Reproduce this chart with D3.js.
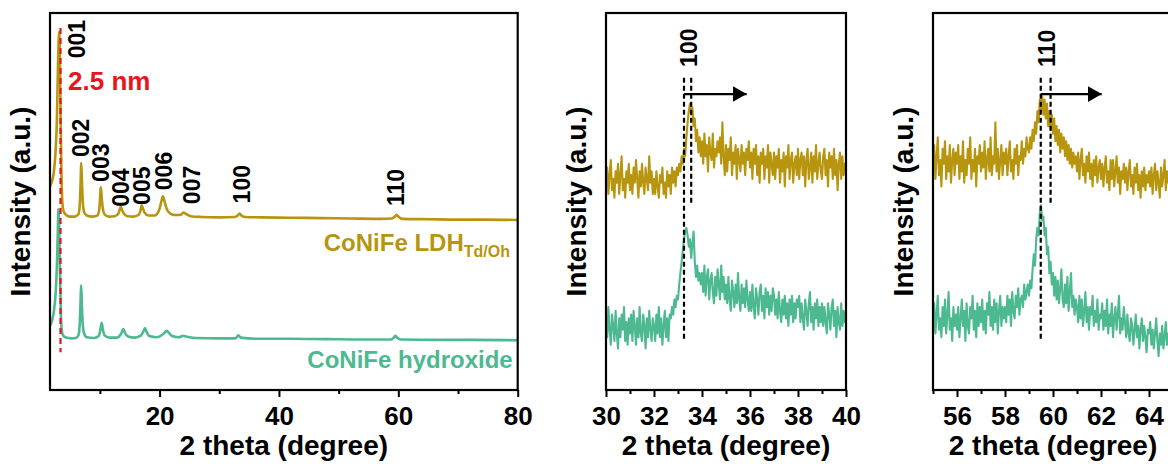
<!DOCTYPE html>
<html>
<head>
<meta charset="utf-8">
<style>
  body { margin: 0; background: #fff; }
  svg { display: block; }
  text { font-family: "Liberation Sans", Arial, sans-serif; font-weight: bold; }
</style>
</head>
<body>
<script src="https://d3js.org/d3.v7.min.js"></script>
<script>
// colours of the two samples
var colLDH = "#b8950f", colHyd = "#4cb991";

// wide scan, [2theta, intensity]
var wideLDH = [[1.64,54],[2.0,55.5],[2.3,58],[2.6,64],[2.8,72],[2.95,84],[3.1,93],[3.18,95],[3.28,90],[3.4,75],[3.55,58],[3.7,50],[3.9,47.5],[4.3,46.5],[5.0,46],[5.8,46],[6.4,46.6],[6.6,48.5],[6.75,54],[6.88,60.2],[7.0,55],[7.15,49.5],[7.4,47],[7.8,46.3],[8.8,46],[9.6,46.3],[9.9,48],[10.05,51.5],[10.15,53.8],[10.3,51],[10.5,48],[10.8,46.6],[11.5,46],[12.5,46.1],[13.1,46.8],[13.35,48],[13.5,48.6],[13.7,47.8],[14.0,46.8],[14.6,46.1],[15.6,46],[16.5,46.5],[16.8,47.6],[17.0,49],[17.2,48.2],[17.5,47],[18.1,46.3],[19.2,46.3],[19.9,47.6],[20.3,50],[20.55,51.4],[20.8,50.2],[21.2,48],[21.8,46.8],[22.6,46.4],[23.6,46.5],[24.0,47.1],[24.4,46.7],[25.2,46.1],[27,45.9],[30,45.8],[32.6,45.9],[33.1,46.3],[33.4,46.8],[33.7,46.3],[34.3,45.9],[37,45.8],[42,45.7],[47,45.6],[52,45.5],[57,45.4],[58.9,45.5],[59.4,46],[59.7,46.5],[60.0,46],[60.6,45.4],[65,45.3],[70,45.2],[75,45.2],[80,45.1]];
var wideHyd = [[1.64,17],[2.0,18.5],[2.3,21],[2.6,26],[2.8,33],[2.95,42],[3.05,48],[3.15,45],[3.3,33],[3.45,21],[3.6,16],[3.8,14.5],[4.3,13.9],[5.2,13.7],[6.0,13.8],[6.4,14.5],[6.6,17],[6.75,23],[6.85,27.8],[6.95,24],[7.1,18],[7.35,15],[7.8,14],[9,13.8],[9.8,14.3],[10.05,15.8],[10.3,17.8],[10.5,16],[10.8,14.5],[11.6,13.9],[12.8,13.9],[13.5,14.8],[13.8,15.8],[13.95,16.2],[14.2,15.2],[14.7,14.2],[15.8,13.9],[16.9,14.5],[17.3,15.6],[17.55,16.4],[17.8,15.5],[18.3,14.3],[19.5,14],[20.4,14.6],[20.9,15.3],[21.2,15.7],[21.5,15.3],[22.0,14.4],[23.2,14],[24.0,14.4],[24.6,14.1],[26,13.8],[30,13.7],[32.7,13.7],[33.2,14.5],[33.6,13.9],[36,13.6],[42,13.6],[48,13.5],[54,13.4],[58.8,13.4],[59.3,14],[59.5,14.4],[59.8,13.9],[60.4,13.4],[66,13.3],[72,13.3],[80,13.2]];

// fine scans, 0.05 degree step
var step = 0.05;
var start100 = 30;
var fine100LDH = [55,59,52,57,61,53,56,51,58,55,60,52,57,62,53,56,51,58,55,60,
  53,57,52,59,55,61,56,51,58,54,60,55,52,59,56,53,62,55,58,52,
  56,52,58,54,51,57,55,59,52,55,51,58,54,57,52,59,55,58,54,59,
  57,60,58,62,60,64,62,67,71,74,76,73,75,70,72,66,69,63,67,62,
  66,60,68,62,65,58,67,63,61,68,59,64,62,66,63,67,60,71,62,57,
  65,58,64,61,67,57,63,60,65,56,64,61,58,65,60,63,57,64,61,66,
  59,63,56,64,60,65,57,62,55,63,60,64,56,62,59,65,55,63,60,57,
  63,56,62,59,64,55,61,58,63,54,62,59,65,56,61,63,55,60,62,57,
  64,56,61,63,57,62,54,61,64,56,59,63,55,62,58,65,56,60,63,58,
  56,62,64,57,61,54,63,59,62,56,64,57,61,53,60,63,56,62,57,60,58];
var fine100Hyd = [19,14,22,16,12,20,17,13,21,15,11,19,14,20,16,22,13,18,12,19,
  15,20,13,21,17,12,19,14,22,15,13,20,17,11,19,14,21,16,13,19,
  17,13,20,15,22,14,19,12,17,21,14,19,13,20,19,22,20,24,22,25,
  24,28,31,34,37,40,42,43,41,38,40,35,39,42,34,30,33,29,31,28,
  31,26,33,25,30,32,24,29,31,26,23,30,25,32,28,24,33,26,30,24,
  28,23,30,24,21,29,26,22,28,23,31,24,21,28,23,27,22,29,24,21,
  26,21,28,22,19,27,24,20,26,28,21,25,19,27,22,26,20,25,21,27,
  25,20,24,19,26,21,18,24,20,25,19,23,17,24,20,25,18,23,19,24,
  22,25,18,23,19,16,24,21,17,23,26,18,22,16,23,19,24,17,22,18,
  23,17,22,18,15,23,20,16,22,24,17,21,14,22,18,16,23,17,21,18,21];
var start110 = 55;
var fine110LDH = [59,65,56,62,67,57,61,54,64,60,66,56,62,58,65,55,61,64,57,63,
  60,65,56,62,58,66,55,61,57,64,60,67,56,61,58,64,54,62,60,65,
  58,63,59,66,56,61,64,58,67,57,62,60,71,58,64,56,61,65,57,63,
  60,64,57,62,66,58,61,56,64,60,65,57,62,61,66,60,64,62,67,64,
  63,67,64,69,66,71,68,74,71,77,74,78,73,77,72,76,70,74,69,73,
  68,72,66,70,65,69,63,68,64,67,62,66,61,65,60,64,59,63,60,62,
  58,63,56,61,64,57,60,55,62,58,63,56,60,54,61,57,62,55,59,61,
  56,60,54,59,62,55,58,53,61,56,61,54,58,62,55,59,52,58,56,60,
  55,59,53,58,61,54,57,52,59,55,60,53,57,51,58,54,59,53,57,55,
  58,54,59,52,57,60,53,58,55,51,59,54,57,61,53,58,55,59,54,57,56];
var fine110Hyd = [19,23,15,20,25,16,19,14,22,17,24,15,20,26,16,19,13,22,17,20,
  16,22,14,19,24,17,21,13,23,17,15,22,19,25,16,21,14,23,17,22,
  18,24,16,21,15,23,20,26,17,22,16,24,18,23,15,21,25,17,22,19,
  22,18,25,20,24,17,26,21,19,25,22,27,20,24,25,22,28,24,26,28,
  25,29,27,32,36,33,40,43,41,47,49,45,46,41,43,36,38,31,34,28,
  31,25,30,24,29,23,27,32,24,22,28,23,30,21,26,31,22,25,20,24,
  22,18,25,19,24,17,21,26,18,22,16,22,20,25,17,21,18,24,16,20,
  19,23,16,21,17,24,15,20,17,23,14,19,22,16,20,25,15,19,16,22,
  18,14,20,15,13,19,17,12,16,20,14,17,11,16,19,13,17,14,10,16,
  15,18,12,16,11,15,19,13,9,15,12,17,11,14,18,12,15,10,14,17,14];

// reflection labels on the wide scan: name, 2theta, intensity where the text starts
var hklNames = ["001","002","003","004","005","006","007","100","110"];
var hklTheta = [6.12,6.73,10.09,13.45,17.04,20.61,25.43,33.83,59.56];
var hklBase  = [88.0,61.8,55.2,48.6,49.1,53.0,49.3,49.5,48.8];

// ticks
var wideMajor = [20,40,60,80], wideMinor = [10,30,50,70];
var midMajor = [30,32,34,36,38,40], midMinor = [31,33,35,37,39];
var rightMajor = [56,58,60,62,64], rightMinor = [55,57,59,61,63,65];

// peak shift markers in the fine scans: [hydroxide line, LDH line, arrow end]
var shift100 = [33.25, 33.55, 35.86];
var shift110 = [59.49, 59.90, 62.03];

var W = 1168, H = 464;
var plotTop = 13, plotH = 377;

var svg = d3.select("body").append("svg")
    .attr("width", W)
    .attr("height", H);
svg.append("rect").attr("width", W).attr("height", H).attr("fill", "#fff");

svg.append("defs").append("marker")
    .attr("id", "arrow")
    .attr("viewBox", "0 0 14 16")
    .attr("refX", 14).attr("refY", 8)
    .attr("markerWidth", 14).attr("markerHeight", 16)
    .attr("markerUnits", "userSpaceOnUse")
    .attr("orient", "auto")
    .append("path")
    .attr("d", "M0,0 L14,8 L0,16 Z")
    .attr("fill", "#000");

function fineSeries(start, vals) {
    return vals.map(function (v, i) { return [start + i * step, v]; });
}

function makePanel(left, width, domain, major, minor) {
    var g = svg.append("g").attr("transform", "translate(" + left + "," + plotTop + ")");
    var x = d3.scaleLinear().domain(domain).range([0, width]);
    var y = d3.scaleLinear().domain([0, 100]).range([plotH, 0]);

    // minor ticks
    var minAx = g.append("g")
        .attr("transform", "translate(0," + plotH + ")")
        .call(d3.axisBottom(x).tickValues(minor).tickSize(4).tickSizeOuter(0).tickFormat(""));
    minAx.select(".domain").remove();
    minAx.selectAll("line").attr("stroke-width", 2);

    var majAx = g.append("g")
        .attr("transform", "translate(0," + plotH + ")")
        .call(d3.axisBottom(x).tickValues(major).tickSize(7).tickSizeOuter(0).tickFormat(d3.format("d")));
    majAx.select(".domain").remove();
    majAx.selectAll("line").attr("stroke-width", 2);
    majAx.selectAll("text")
        .attr("y", 35).attr("dy", 0)
        .attr("font-size", 26)
        .attr("font-family", "'Liberation Sans', Arial, sans-serif")
        .attr("font-weight", "bold")
        .attr("fill", "#000");

    g.append("text")
        .attr("x", width / 2).attr("y", 442)
        .attr("text-anchor", "middle")
        .attr("font-size", 28)
        .text("2 theta (degree)");

    g.append("text")
        .attr("transform", "translate(-20," + plotH / 2 + ") rotate(-90)")
        .attr("text-anchor", "middle")
        .attr("font-size", 28)
        .text("Intensity (a.u.)");

    return { g: g, x: x, y: y, width: width };
}

function drawLine(p, data, color, sw, curve) {
    var line = d3.line()
        .x(function (d) { return p.x(d[0]); })
        .y(function (d) { return p.y(d[1]); })
        .curve(curve || d3.curveLinear);
    p.g.append("path")
        .datum(data)
        .attr("fill", "none")
        .attr("stroke", color)
        .attr("stroke-width", sw)
        .attr("stroke-linejoin", "round")
        .attr("d", line);
}

function frame(p) {
    p.g.append("rect")
        .attr("width", p.width).attr("height", plotH)
        .attr("fill", "none")
        .attr("stroke", "#000")
        .attr("stroke-width", 2.2);
}

function rotLabel(p, name, th, base, size) {
    p.g.append("text")
        .attr("transform", "translate(" + p.x(th) + "," + p.y(base) + ") rotate(-90)")
        .attr("dy", "0.36em")
        .attr("font-size", size)
        .text(name);
}

// ---------- wide scan ----------
var pw = makePanel(50, 467.7, [1.64, 80], wideMajor, wideMinor);
drawLine(pw, wideLDH, colLDH, 2.6, d3.curveMonotoneX);
drawLine(pw, wideHyd, colHyd, 2.6, d3.curveMonotoneX);

// 2.5 nm marker line at the 001 reflection
pw.g.append("line")
    .attr("x1", pw.x(3.4)).attr("x2", pw.x(3.4))
    .attr("y1", pw.y(96)).attr("y2", pw.y(10))
    .attr("stroke", "#e8161c")
    .attr("stroke-width", 2.2)
    .attr("stroke-dasharray", "6,4");
pw.g.append("text")
    .attr("x", pw.x(4.67)).attr("y", pw.y(79.6))
    .attr("fill", "#e8161c")
    .attr("font-size", 26)
    .text("2.5 nm");

hklNames.forEach(function (n, i) { rotLabel(pw, n, hklTheta[i], hklBase[i], 23); });

var lgd = pw.g.append("text")
    .attr("x", 460).attr("y", 238)
    .attr("text-anchor", "end")
    .attr("fill", colLDH)
    .attr("font-size", 24);
lgd.append("tspan").text("CoNiFe LDH");
lgd.append("tspan").attr("font-size", 16).attr("dy", 6).text("Td/Oh");

pw.g.append("text")
    .attr("x", 462.7).attr("y", 355)
    .attr("text-anchor", "end")
    .attr("fill", colHyd)
    .attr("font-size", 24)
    .text("CoNiFe hydroxide");
frame(pw);

// ---------- fine scans ----------
function finePanel(left, domain, major, minor, start, ldh, hyd, shift, label) {
    var p = makePanel(left, 240, domain, major, minor);
    drawLine(p, fineSeries(start, ldh), colLDH, 2.1);
    drawLine(p, fineSeries(start, hyd), colHyd, 2.1);

    var dash = "5,3";
    p.g.append("line")
        .attr("x1", p.x(shift[0])).attr("x2", p.x(shift[0]))
        .attr("y1", p.y(82.8)).attr("y2", p.y(13))
        .attr("stroke", "#000").attr("stroke-width", 2.2).attr("stroke-dasharray", dash);
    p.g.append("line")
        .attr("x1", p.x(shift[1])).attr("x2", p.x(shift[1]))
        .attr("y1", p.y(82.8)).attr("y2", p.y(49.5))
        .attr("stroke", "#000").attr("stroke-width", 2.2).attr("stroke-dasharray", dash);
    p.g.append("line")
        .attr("x1", p.x(shift[0])).attr("x2", p.x(shift[2]))
        .attr("y1", p.y(78.5)).attr("y2", p.y(78.5))
        .attr("stroke", "#000").attr("stroke-width", 2.2)
        .attr("marker-end", "url(#arrow)");

    rotLabel(p, label, (shift[0] + shift[1]) / 2 + 0.03, 85.7, 23);
    frame(p);
    return p;
}

finePanel(606, [30, 40], midMajor, midMinor, start100, fine100LDH, fine100Hyd, shift100, "100");
finePanel(933, [55, 65], rightMajor, rightMinor, start110, fine110LDH, fine110Hyd, shift110, "110");
</script>
</body>
</html>
